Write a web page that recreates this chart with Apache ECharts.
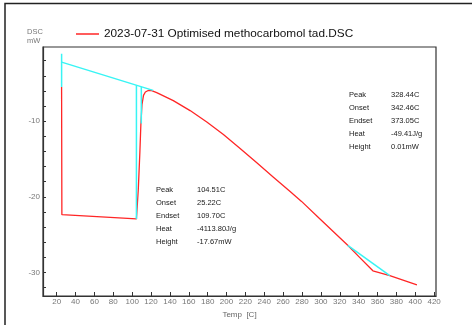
<!DOCTYPE html>
<html>
<head>
<meta charset="utf-8">
<script src="https://cdn.jsdelivr.net/npm/echarts@6/dist/echarts.min.js"></script>
<style>
  html, body { margin: 0; padding: 0; background: #fff; }
  #chart { width: 472px; height: 325px; }
</style>
</head>
<body>
<div id="chart"></div>
<script>
// DSC run: temperature [C] vs heat flow [mW]
const runName = '2023-07-31 Optimised methocarbomol tad.DSC';

const tempMeasured = [25.2, 25.5, 104.51, 106.5, 108.2, 109.2, 110.4, 112.0, 114.0, 117.0, 120.0, 126.0,
  143.6, 161.4, 179.1, 196.7, 214.4, 232.1, 249.7, 267.4, 279.5, 298.5, 328.44, 341.0, 355.1, 373.05, 401.8];
const dscMeasured = [-5.5, -22.35, -22.92, -19.0, -14.0, -10.5, -7.8, -6.6, -6.15, -5.95, -5.93, -6.23,
  -7.29, -8.6, -10.1, -11.75, -13.6, -15.5, -17.4, -19.3, -20.6, -22.85, -26.4, -28.0, -29.77, -30.4, -31.64];

// evaluation construction lines (first peak)
const onsetMarkTemp = [25.22, 25.22];
const onsetMarkDsc = [-1.1, -5.5];
const baselineTemp = [25.22, 122.2];
const baselineDsc = [-2.2, -5.93];
const peakMarkTemp = [104.51, 104.51];
const peakMarkDsc = [-5.25, -22.92];
const endsetMarkTemp = [109.70, 109.70];
const endsetMarkDsc = [-5.45, -10.3];
// evaluation line (second peak)
const baseline2Temp = [328.44, 373.05];
const baseline2Dsc = [-26.4, -30.4];

// axis ticks and labels
const xTickValues = [20, 40, 60, 80, 100, 120, 140, 160, 180, 200, 220, 240, 260, 280, 300, 320, 340, 360, 380, 400, 420];
const yLabelValues = [-10, -20, -30];
const yTickValues = [-2, -4, -6, -8, -10, -12, -14, -16, -18, -20, -22, -24, -26, -28, -30, -32];

// result tables
const resultKeys = ['Peak', 'Onset', 'Endset', 'Heat', 'Height'];
const resultsPeak1 = ['104.51C', '25.22C', '109.70C', '-4113.80J/g', '-17.67mW'];
const resultsPeak2 = ['328.44C', '342.46C', '373.05C', '-49.41J/g', '0.01mW'];

const pairs = (xs, ys) => xs.map((x, i) => [x, ys[i]]);

const RED = '#ff2626';
const CYAN = '#38f4f4';
const FONT = '"Liberation Sans", Arial, sans-serif';

function cyanSeries(xs, ys) {
  return {
    type: 'line', data: pairs(xs, ys), showSymbol: false, silent: true,
    lineStyle: { color: CYAN, width: 1.5 }, z: 3, animation: false
  };
}

function tableText(x, y0, keys, values, dx) {
  const out = [];
  keys.forEach((k, i) => {
    out.push({ type: 'text', x: x, y: y0 + i * 13,
      style: { text: k, fill: '#1a1a1a', font: '7.5px ' + FONT, verticalAlign: 'middle' } });
    out.push({ type: 'text', x: x + dx, y: y0 + i * 13,
      style: { text: values[i], fill: '#1a1a1a', font: '7.5px ' + FONT, verticalAlign: 'middle' } });
  });
  return out;
}

const chart = echarts.init(document.getElementById('chart'), null, { renderer: 'canvas' });
chart.setOption({
  animation: false,
  backgroundColor: '#fff',
  textStyle: { fontFamily: FONT },
  grid: { left: 43, top: 47, right: 36, bottom: 29, show: true, borderColor: '#333', borderWidth: 1.2 },
  legend: {
    data: [runName], left: 71, top: 23, icon: 'rect', itemWidth: 23, itemHeight: 1.5, itemGap: 10,
    textStyle: { fontSize: 11.8, color: '#111', fontFamily: FONT }
  },
  xAxis: {
    type: 'value', min: 5.5, max: 422,
    name: 'Temp  [C]', nameLocation: 'middle', nameGap: 15,
    nameTextStyle: { fontSize: 8, color: '#666', fontFamily: FONT },
    axisLine: { show: true, lineStyle: { color: '#333', width: 1.2 } },
    axisTick: { show: true, inside: true, length: 4, customValues: xTickValues, lineStyle: { color: '#333' } },
    axisLabel: { customValues: xTickValues, fontSize: 8, color: '#777', margin: 2, fontFamily: FONT },
    splitLine: { show: false }
  },
  yAxis: {
    type: 'value', min: -33.1, max: -0.2,
    name: 'DSC\nmW', nameLocation: 'end', nameGap: 2,
    nameTextStyle: { fontSize: 7.5, color: '#777', align: 'left', verticalAlign: 'bottom', lineHeight: 9,
      padding: [0, 0, 0, -16], fontFamily: FONT },
    axisLine: { show: true, lineStyle: { color: '#333', width: 1.2 } },
    axisTick: { show: true, inside: true, length: 3, customValues: yTickValues, lineStyle: { color: '#333' } },
    axisLabel: { customValues: yLabelValues, fontSize: 8, color: '#777', margin: 3, fontFamily: FONT },
    splitLine: { show: false }
  },
  series: [
    {
      name: runName, type: 'line', data: pairs(tempMeasured, dscMeasured), showSymbol: false,
      lineStyle: { color: RED, width: 1.3 }, itemStyle: { color: RED }, z: 2
    },
    cyanSeries(onsetMarkTemp, onsetMarkDsc),
    cyanSeries(baselineTemp, baselineDsc),
    cyanSeries(peakMarkTemp, peakMarkDsc),
    cyanSeries(endsetMarkTemp, endsetMarkDsc),
    cyanSeries(baseline2Temp, baseline2Dsc)
  ],
  graphic: [
    { type: 'polyline', shape: { points: [[5, 325], [5, 3.5], [472, 3.5]] },
      style: { stroke: '#222', lineWidth: 1.5, fill: null } },
    ...tableText(349, 94.5, resultKeys, resultsPeak2, 42),
    ...tableText(156, 189.5, resultKeys, resultsPeak1, 41)
  ]
});
</script>
</body>
</html>
